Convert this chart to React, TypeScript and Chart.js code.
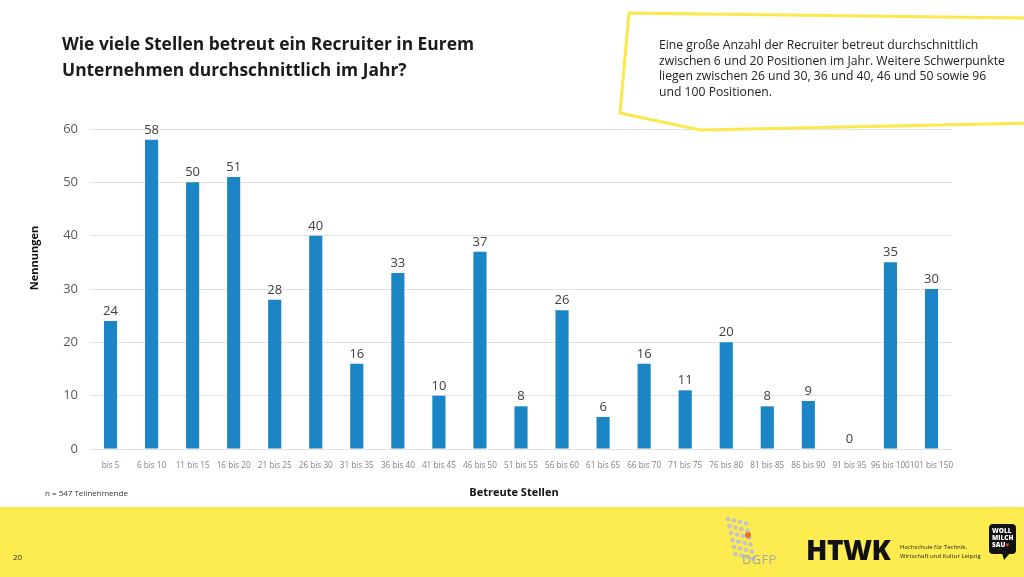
import React, { useEffect, useRef } from "react";
import { Chart, registerables } from "chart.js";

Chart.register(...registerables);

const categories = [
  "bis 5", "6 bis 10", "11 bis 15", "16 bis 20", "21 bis 25", "26 bis 30", "31 bis 35",
  "36 bis 40", "41 bis 45", "46 bis 50", "51 bis 55", "56 bis 60", "61 bis 65", "66 bis 70",
  "71 bis 75", "76 bis 80", "81 bis 85", "86 bis 90", "91 bis 95", "96 bis 100", "101 bis 150",
];
const nennungen = [24, 58, 50, 51, 28, 40, 16, 33, 10, 37, 8, 26, 6, 16, 11, 20, 8, 9, 0, 35, 30];
const yTicks = [0, 10, 20, 30, 40, 50, 60];

const title = ["Wie viele Stellen betreut ein Recruiter in Eurem", "Unternehmen durchschnittlich im Jahr?"];
const noteLines = [
  "Eine große Anzahl der Recruiter betreut durchschnittlich",
  "zwischen 6 und 20 Positionen im Jahr. Weitere Schwerpunkte",
  "liegen zwischen 26 und 30, 36 und 40, 46 und 50 sowie 96",
  "und 100 Positionen.",
];

const FONT = "'Open Sans', 'Noto Sans', sans-serif";

const valueLabels = {
  id: "valueLabels",
  afterDatasetsDraw(chart: any) {
    const ctx = chart.ctx;
    const meta = chart.getDatasetMeta(0);
    ctx.save();
    ctx.font = `13px ${FONT}`;
    ctx.fillStyle = "#404040";
    ctx.textAlign = "center";
    ctx.textBaseline = "alphabetic";
    meta.data.forEach((bar: any, i: number) => {
      ctx.fillText(String(nennungen[i]), bar.x, bar.y - 6);
    });
    ctx.restore();
  },
};

export default function App() {
  const ref = useRef<HTMLCanvasElement | null>(null);
  useEffect(() => {
    document.body.style.margin = "0";
    const chart = new Chart(ref.current as HTMLCanvasElement, {
      type: "bar",
      data: {
        labels: categories,
        datasets: [
          {
            data: nennungen,
            backgroundColor: "#1b85c6",
            barPercentage: 0.32,
            categoryPercentage: 1,
          },
        ],
      },
      options: {
        animation: false,
        responsive: false,
        events: [],
        layout: { padding: { left: 60, top: 129, right: 72, bottom: 108 } },
        plugins: { legend: { display: false }, tooltip: { enabled: false } },
        scales: {
          x: {
            grid: { display: false },
            border: { display: false },
            ticks: {
              color: "#808080",
              font: { family: FONT, size: 8.2 },
              padding: 4,
              maxRotation: 0,
              autoSkip: false,
            },
            afterFit(scale: any) {
              scale.height = 20;
            },
          },
          y: {
            min: 0,
            max: 60,
            afterBuildTicks(scale: any) {
              scale.ticks = yTicks.map((v) => ({ value: v }));
            },
            grid: { color: "#e3e3e3", drawTicks: false, lineWidth: 1 },
            border: { display: false },
            ticks: {
              color: "#5a5a5a",
              font: { family: FONT, size: 13 },
              padding: 12,
            },
            afterFit(scale: any) {
              scale.width = 30;
            },
          },
        },
      },
      plugins: [valueLabels],
    });
    return () => chart.destroy();
  }, []);

  return (
    <div style={{ position: "fixed", left: 0, top: 0, width: 1024, height: 577, background: "#fff", overflow: "hidden", fontFamily: FONT }}>
      <div style={{ position: "absolute", left: 0, top: 507, width: 1024, height: 70, background: "#fcec50" }} />
      <canvas ref={ref} width={1024} height={577} style={{ position: "absolute", left: 0, top: 0 }} />
      <div style={{ position: "absolute", left: 62, top: 30, fontSize: 17.4, fontWeight: 700, color: "#1a1a1a", lineHeight: "26px", whiteSpace: "nowrap" }}>
        {title.map((t, i) => (
          <div key={i}>{t}</div>
        ))}
      </div>
      <svg width={1024} height={140} style={{ position: "absolute", left: 0, top: 0 }}>
        <polyline points="1030,18 629,13 620,113 700,130 1030,123" fill="none" stroke="#fbe84a" strokeWidth={3} strokeLinejoin="miter" />
      </svg>
      <div style={{ position: "absolute", left: 659, top: 37, fontSize: 12.2, color: "#222", lineHeight: "15.7px", whiteSpace: "nowrap" }}>
        {noteLines.map((t, i) => (
          <div key={i}>{t}</div>
        ))}
      </div>
      <div style={{ position: "absolute", left: 33, top: 258, transform: "translate(-50%, -50%) rotate(-90deg)", fontSize: 11, fontWeight: 700, color: "#111", whiteSpace: "nowrap" }}>
        Nennungen
      </div>
      <div style={{ position: "absolute", left: 514, top: 491, transform: "translate(-50%, -50%)", fontSize: 11, fontWeight: 700, color: "#111", whiteSpace: "nowrap" }}>
        Betreute Stellen
      </div>
      <div style={{ position: "absolute", left: 45, top: 487, fontSize: 8, color: "#333", whiteSpace: "nowrap" }}>
        n = 547 Teilnehmende
      </div>
      <div style={{ position: "absolute", left: 13, top: 551, fontSize: 8, color: "#333" }}>20</div>
      {/* logos */}
      <svg width={60} height={50} style={{ position: "absolute", left: 722, top: 515 }}>
        {[0, 1, 2, 3, 4, 5].map((r) =>
          [0, 1, 2, 3].map((c) => (
            <circle key={`${r}-${c}`} cx={6 + c * 6 + r * 1.5} cy={4 + r * 7 + c * 1.5} r={2.3} fill="#c4c4c4" />
          ))
        )}
        <circle cx={26} cy={20} r={3} fill="#e8712c" />
      </svg>
      <div style={{ position: "absolute", left: 742, top: 550, fontSize: 13, color: "#a8a8a8", letterSpacing: 0.3 }}>DGFP</div>
      <div style={{ position: "absolute", left: 806, top: 530, fontSize: 28, fontWeight: 800, color: "#111", letterSpacing: -0.5 }}>HTWK</div>
      <div style={{ position: "absolute", left: 900, top: 543, fontSize: 6, color: "#222", lineHeight: "9px", whiteSpace: "nowrap" }}>
        <div>Hochschule für Technik,</div>
        <div>Wirtschaft und Kultur Leipzig</div>
      </div>
      <div style={{ position: "absolute", left: 989, top: 524, width: 27, height: 30, background: "#111", borderRadius: 4, color: "#fff", fontSize: 6.5, fontWeight: 800, lineHeight: "7px", padding: "3px 0 0 3px", boxSizing: "border-box" }}>
        <div>WOLL</div>
        <div>MILCH</div>
        <div>SAU<span style={{ color: "#e84a3c" }}>♥</span></div>
      </div>
      <svg width={10} height={8} style={{ position: "absolute", left: 1002, top: 553 }}>
        <polygon points="0,0 8,0 2,7" fill="#111" />
      </svg>
    </div>
  );
}
